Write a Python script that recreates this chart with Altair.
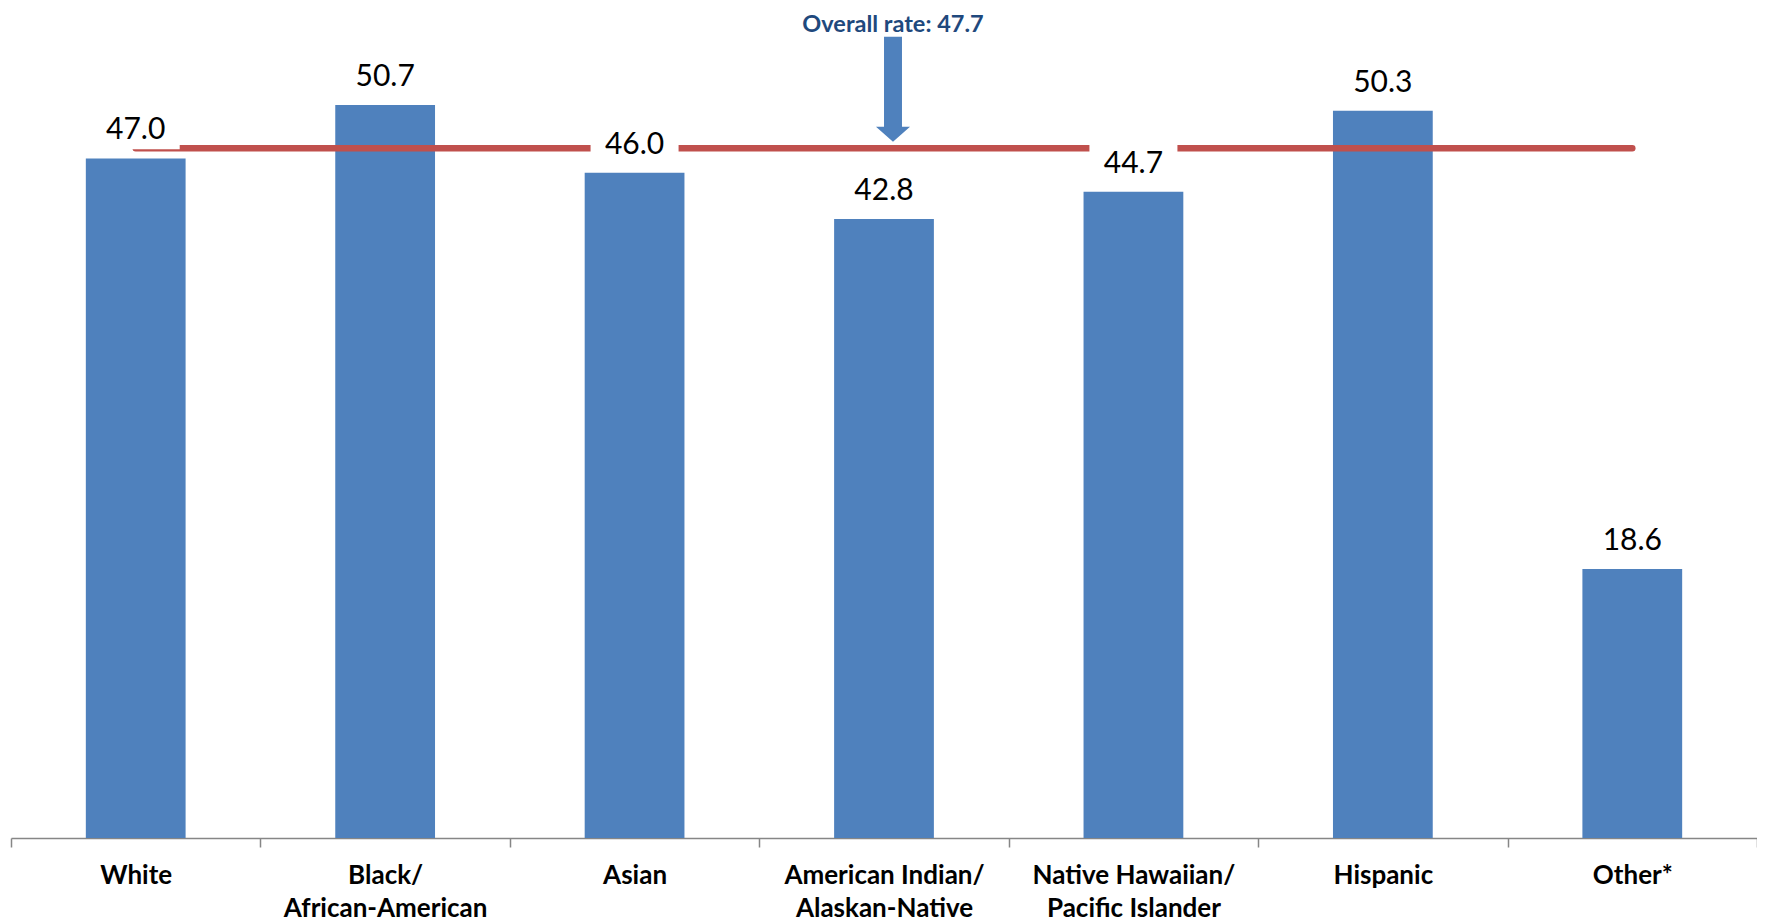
import altair as alt
import pandas as pd

categories = ["White", "Black/ African-American", "Asian", "American Indian/ Alaskan-Native",
              "Native Hawaiian/ Pacific Islander", "Hispanic", "Other*"]
rates = [47.0, 50.7, 46.0, 42.8, 44.7, 50.3, 18.6]
overall_rate = 47.7
overall_label = "Overall rate: 47.7"
arrow_category = "American Indian/ Alaskan-Native"

BAR_BLUE = "#4F81BD"
RED = "#C0504D"
TEXT_BLUE = "#1F497D"
FONT = "Lato"

bars_df = pd.DataFrame({"cat": categories, "rate": rates})
line_df = pd.DataFrame({"cat": categories, "overall": [overall_rate] * len(categories)})
ann_df = pd.DataFrame({"cat": [arrow_category], "overall": [overall_rate], "label": [overall_label]})

label_expr = ("indexof(datum.label, '/') > 0 ? "
              "[slice(datum.label, 0, indexof(datum.label, '/') + 1), "
              "trim(slice(datum.label, indexof(datum.label, '/') + 1))] : datum.label")

x = alt.X("cat:N", sort=categories, title=None,
          scale=alt.Scale(paddingInner=0, paddingOuter=0),
          axis=alt.Axis(labelExpr=label_expr, labelAngle=0, tickBand="extent",
                        domainColor="#868686", domainWidth=1.5, tickColor="#868686",
                        tickWidth=1.5, tickSize=9, labelFont=FONT, labelFontSize=26,
                        labelFontWeight="bold", labelColor="#000000", labelPadding=15,
                        labelLineHeight=33, labelLimit=0, grid=False))
y_scale = alt.Scale(domain=[0, 57.4], nice=False, zero=True)
y = alt.Y("rate:Q", scale=y_scale, axis=None)

bars = alt.Chart(bars_df).mark_bar(color=BAR_BLUE, width=alt.RelativeBandSize(0.4)).encode(x=x, y=y)

line = alt.Chart(line_df).mark_line(color=RED, strokeWidth=6.5, strokeCap="round").encode(
    x=alt.X("cat:N", sort=categories),
    y=alt.Y("overall:Q", scale=y_scale))

boxes = alt.Chart(bars_df).mark_point(
    shape="M-1,-0.43H1V0.43H-1Z", size=7744, filled=True, color="#FFFFFF", opacity=1,
    strokeWidth=0, yOffset=-28).encode(
    x=alt.X("cat:N", sort=categories), y=alt.Y("rate:Q", scale=y_scale))

labels = alt.Chart(bars_df).mark_text(
    font=FONT, fontSize=30, color="#000000", baseline="middle", align="center", dy=-28).encode(
    x=alt.X("cat:N", sort=categories), y=alt.Y("rate:Q", scale=y_scale),
    text=alt.Text("rate:Q", format=".1f"))

arrow = alt.Chart(ann_df).mark_point(
    shape="M-0.171,-1H0.171V0.714H0.324L0,1L-0.324,0.714H-0.171Z", size=11025,
    filled=True, color=BAR_BLUE, opacity=1, strokeWidth=0, xOffset=9, yOffset=-59).encode(
    x=alt.X("cat:N", sort=categories), y=alt.Y("overall:Q", scale=y_scale))

ann_text = alt.Chart(ann_df).mark_text(
    font=FONT, fontSize=23.5, fontWeight="bold", color=TEXT_BLUE, baseline="middle",
    align="center", dx=9, dy=-123).encode(
    x=alt.X("cat:N", sort=categories), y=alt.Y("overall:Q", scale=y_scale),
    text="label:N")

chart = alt.layer(bars, line, boxes, labels, arrow, ann_text).properties(
    width=1746, height=830,
    autosize=alt.AutoSizeParams(type="none"),
    padding={"left": 3, "top": 0, "right": 0, "bottom": 85},
).configure_view(strokeOpacity=0)

chart.save("out.html", embed_options={"renderer": "svg", "actions": False})
